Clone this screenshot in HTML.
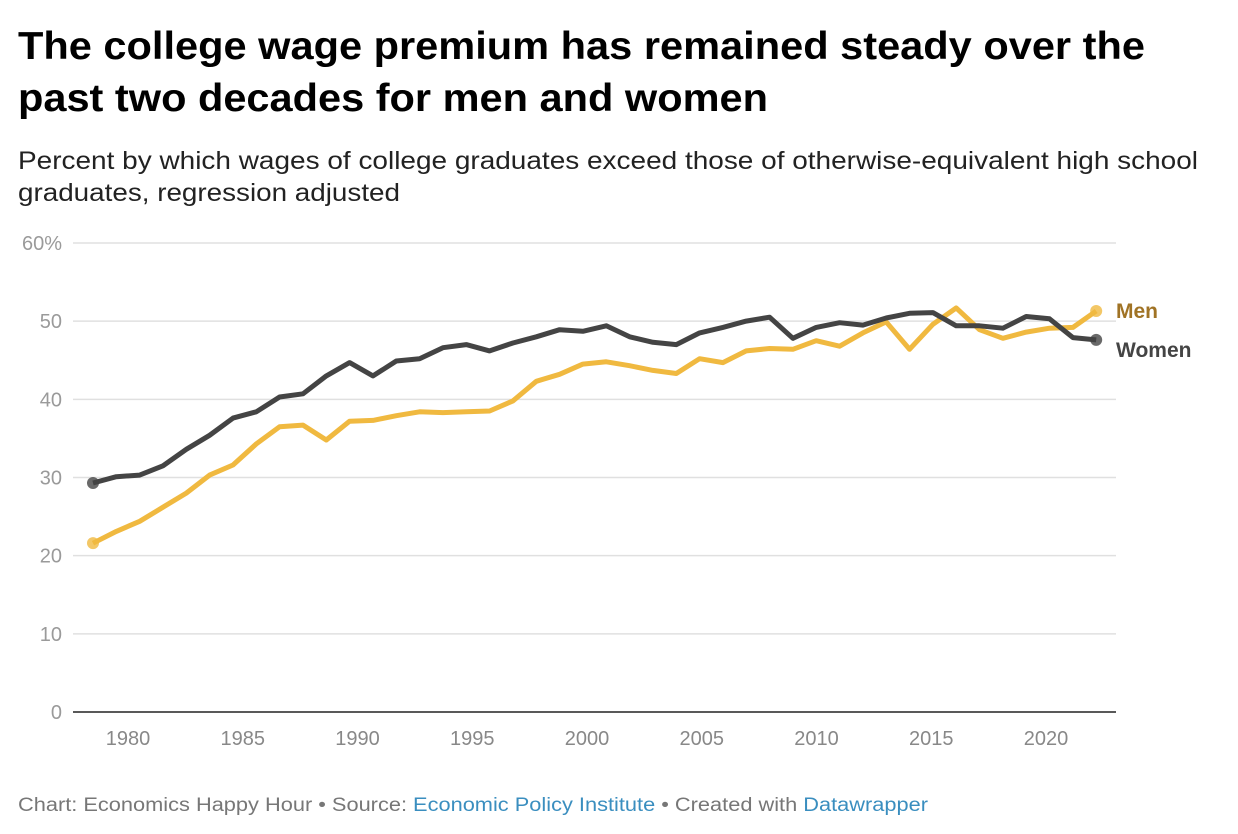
<!DOCTYPE html>
<html><head><meta charset="utf-8">
<style>
html,body{margin:0;padding:0;background:#fff;}
svg{display:block;font-family:"Liberation Sans",sans-serif;}
</style></head>
<body>
<svg id="chart" width="1238" height="834" viewBox="0 0 1238 834">
<text x="18" y="59" font-size="39" font-weight="bold" fill="#000" textLength="1127" lengthAdjust="spacingAndGlyphs">The college wage premium has remained steady over the</text>
<text x="18" y="111" font-size="39" font-weight="bold" fill="#000" textLength="750" lengthAdjust="spacingAndGlyphs">past two decades for men and women</text>
<text x="18" y="169" font-size="25" fill="#222" textLength="1180" lengthAdjust="spacingAndGlyphs">Percent by which wages of college graduates exceed those of otherwise-equivalent high school</text>
<text x="18" y="201" font-size="25" fill="#222" textLength="382" lengthAdjust="spacingAndGlyphs">graduates, regression adjusted</text>
<g id="grid"></g>
<g id="lines"></g>
<text x="18" y="811" font-size="19" fill="#777" textLength="910" lengthAdjust="spacingAndGlyphs">Chart: Economics Happy Hour • Source: <tspan fill="#3a8ebf">Economic Policy Institute</tspan> • Created with <tspan fill="#3a8ebf">Datawrapper</tspan></text>
</svg>
<script>
const years=[1979,1980,1981,1982,1983,1984,1985,1986,1987,1988,1989,1990,1991,1992,1993,1994,1995,1996,1997,1998,1999,2000,2001,2002,2003,2004,2005,2006,2007,2008,2009,2010,2011,2012,2013,2014,2015,2016,2017,2018,2019,2020,2021,2022];
const women=[29.3,30.1,30.3,31.5,33.6,35.4,37.6,38.4,40.3,40.7,43.0,44.7,43.0,44.9,45.2,46.6,47.0,46.2,47.2,48.0,48.9,48.7,49.4,48.0,47.3,47.0,48.5,49.2,50.0,50.5,47.8,49.2,49.8,49.5,50.4,51.0,51.1,49.4,49.4,49.1,50.6,50.3,47.9,47.6];
const men=[21.6,23.1,24.4,26.2,28.0,30.3,31.6,34.3,36.5,36.7,34.8,37.2,37.3,37.9,38.4,38.3,38.4,38.5,39.8,42.3,43.2,44.5,44.8,44.3,43.7,43.3,45.2,44.7,46.2,46.5,46.4,47.5,46.8,48.5,49.9,46.4,49.6,51.7,48.9,47.8,48.6,49.1,49.2,51.3];
const yTicks=[0,10,20,30,40,50,60];
const yTickLabels=["0","10","20","30","40","50","60%"];
const xTicks=[1980,1985,1990,1995,2000,2005,2010,2015,2020];

const NS="http://www.w3.org/2000/svg";
const xs=y=>93+(y-1979)*23.33;
const xl=y=>128+(y-1980)*22.95;
const ys=v=>712-v*7.817;
function mk(tag,attrs,parent){const e=document.createElementNS(NS,tag);for(const k in attrs)e.setAttribute(k,attrs[k]);parent.appendChild(e);return e;}
const grid=document.getElementById('grid'),lines=document.getElementById('lines');
yTicks.forEach((t,i)=>{
  if(t>0){const g=mk('line',{x1:73,x2:1116,y1:ys(t),y2:ys(t),stroke:'#e0e0e0','stroke-width':1.5},grid);
  
  }
  const l=mk('text',{x:62,y:ys(t)+7,'text-anchor':'end','font-size':20,fill:'#9a9a9a'},grid);
  l.textContent=yTickLabels[i];
  
  
});
const ax=mk('line',{x1:73,x2:1116,y1:712,y2:712,stroke:'#222','stroke-width':1.5},grid);


xTicks.forEach(t=>{
  const l=mk('text',{x:xl(t),y:745,'text-anchor':'middle','font-size':20,fill:'#888'},grid);
  l.textContent=t;
  
  
});
function series(vals,color,name){
  const d=vals.map((v,i)=>(i?'L':'M')+xs(years[i]).toFixed(1)+','+ys(v).toFixed(1)).join(' ');
  const p=mk('path',{d:d,fill:'none',stroke:color,'stroke-width':5,'stroke-linejoin':'round'},lines);
  
  
  [0,vals.length-1].forEach(i=>{
    const c=mk('circle',{cx:xs(years[i]),cy:ys(vals[i]),r:6,fill:color,opacity:0.8},lines);
    
    
  });
}
series(men,'#f0b940','men');
series(women,'#444444','women');
const lm=mk('text',{x:1116,y:ys(men[men.length-1])+7,'font-size':21,'font-weight':'bold',fill:'#a07325'},lines);
lm.textContent='Men';


const lw=mk('text',{x:1116,y:ys(women[women.length-1])+17,'font-size':21,'font-weight':'bold',fill:'#444'},lines);
lw.textContent='Women';


</script>
</body></html>
